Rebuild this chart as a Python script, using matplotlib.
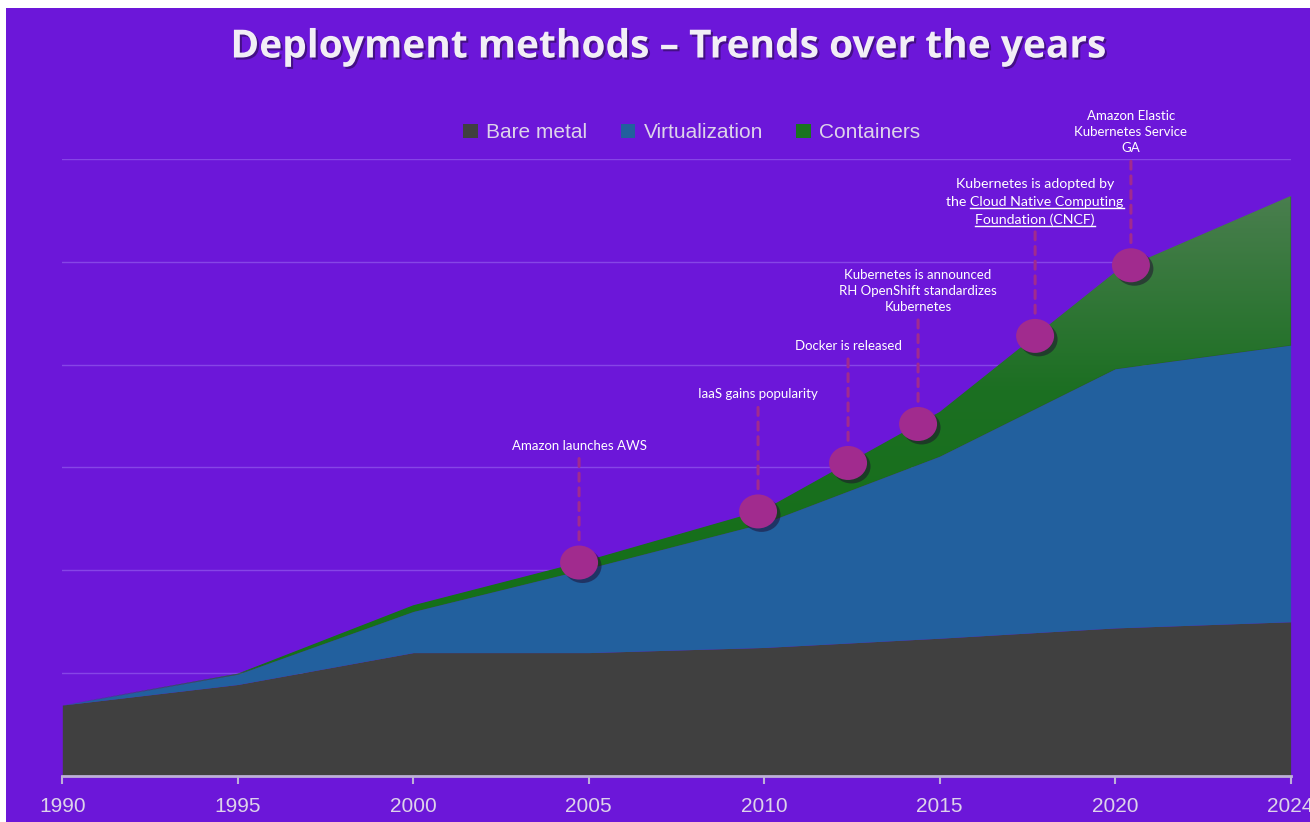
import numpy as np
import matplotlib
matplotlib.use('Agg')
import matplotlib.pyplot as plt
import matplotlib.patheffects as pe
from matplotlib.patches import Ellipse, Patch, Rectangle
from matplotlib.colors import LinearSegmentedColormap
from matplotlib.lines import Line2D

##===========================================
# Data
##===========================================
years = ['1990', '1995', '2000', '2005', '2010', '2015', '2020', '2024']
bare_metal = [6.9, 8.9, 12.0, 12.0, 12.5, 13.4, 14.4, 15.0]
virtualization = [0.0, 1.0, 4.0, 8.2, 12.1, 17.7, 25.2, 26.9]
containers = [0.0, 0.05, 0.6, 0.8, 1.3, 4.3, 9.4, 14.5]
series_names = ['Bare metal', 'Virtualization', 'Containers']

# milestones, position on the category axis (0 = 1990 ... 7 = 2024)
event_pos = [2.945, 3.965, 4.478, 4.877, 5.544, 6.09]
event_labels = ['Amazon launches AWS',
                'IaaS gains popularity',
                'Docker is released',
                'Kubernetes is announced\nRH OpenShift standardizes\nKubernetes',
                'Kubernetes is adopted by\nthe Cloud Native Computing\nFoundation (CNCF)',
                'Amazon Elastic\nKubernetes Service\nGA']
# pieces of the CNCF label that are underlined (a link in the original)
underlined = ['Cloud Native Computing', 'Foundation (CNCF)']

##===========================================
# Styling
##===========================================
BG = '#6c17d9'
C_BARE = '#404040'
C_VIRT = '#22609e'
C_CONT = '#1a6e1f'
C_DOT = '#a12b8e'
TXT = '#ddd3ea'

fig = plt.figure(figsize=(13.1, 8.22), dpi=100, facecolor='white')
fig.patches.append(Rectangle((6 / 1310, 0), 1, 1 - 8 / 822, transform=fig.transFigure,
                             facecolor=BG, edgecolor='none', zorder=-10))

ax = fig.add_axes([62.3 / 1310, 1 - 776 / 822, (1290.6 - 62.3) / 1310, (776 - 159) / 822])
ax.set_facecolor('none')

x = np.arange(len(years))
b = np.array(bare_metal)
v = b + np.array(virtualization)
c = v + np.array(containers)

ax.fill_between(x, 0, b, color=C_BARE, lw=0, zorder=2)
ax.fill_between(x, b, v, color=C_VIRT, lw=0, zorder=2)
green = ax.fill_between(x, v, c, color=C_CONT, lw=0, zorder=2)

# green area gets a vertical gradient
cmap = LinearSegmentedColormap.from_list('g', ['#157019', '#1c6f22', '#4b7f50'])
grad = np.linspace(0, 1, 256).reshape(-1, 1)
grad = np.clip((grad - 0.3) / 0.65, 0, 1)
im = ax.imshow(grad, cmap=cmap, aspect='auto', extent=[0, 7, 0, 60], origin='lower', zorder=3)
im.set_clip_path(green.get_paths()[0], transform=ax.transData)

ax.set_xlim(0, 7)
ax.set_ylim(0, 60)
ax.set_yticks(np.arange(10, 61, 10))
ax.yaxis.grid(True, color='#8645e6', lw=1.0, zorder=0)
ax.set_axisbelow(True)
ax.tick_params(axis='y', left=False, labelleft=False)
ax.set_xticks(x)
ax.set_xticklabels(years, fontsize=15, color=TXT, family='Liberation Sans')
ax.tick_params(axis='x', color='#bdb0d8', length=6, width=1.5, pad=9)
for s in ['top', 'right', 'left']:
    ax.spines[s].set_visible(False)
ax.spines['bottom'].set_color('#bdb0d8')
ax.spines['bottom'].set_linewidth(2)
ax.spines['bottom'].set_zorder(5)

##===========================================
# Milestones
##===========================================
ev_y = np.interp(event_pos, x, c)
px = 0.72  # points per pixel at 100 dpi
link_texts = []
for i, (ex, ey, lab) in enumerate(zip(event_pos, ev_y, event_labels)):
    ax.annotate('', xy=(ex, ey), xycoords='data', xytext=(0, 104 * px), textcoords='offset points',
                arrowprops=dict(arrowstyle='-', color=C_DOT, lw=2.2, ls=(0, (2.6, 2.2)),
                                shrinkA=0, shrinkB=20 * px), zorder=6)
    el = Ellipse((ex, ey), 38 / 175.47, 34 / 10.28, facecolor=C_DOT, edgecolor='none', zorder=7,
                 path_effects=[pe.SimplePatchShadow(offset=(2.5, -2.5), shadow_rgbFace='#1e0a2e', alpha=0.5),
                               pe.Normal()])
    ax.add_patch(el)
    lines = lab.split('\n')
    big = (i == 4)
    step = 18 if big else 16
    base = 116 if big else 117
    for k, ln in enumerate(lines):
        off = (base + (len(lines) - 1 - k) * step) * px
        t = ax.annotate(ln, xy=(ex, ey), xytext=(0, off), textcoords='offset points',
                        ha='center', va='center', color='white',
                        fontsize=10.2 if big else 9.5, family='Lato', zorder=8)
        if big:
            link_texts.append(t)

# underline the link part of the CNCF label
fig.canvas.draw()
r = fig.canvas.get_renderer()
for t in link_texts:
    s = t.get_text()
    for u in underlined:
        if u in s:
            bb = t.get_window_extent(r)
            _, _, desc = r.get_text_width_height_descent(s, t.get_fontproperties(), ismath=False)
            tmp = fig.text(0, 0, u, fontproperties=t.get_fontproperties())
            wu = tmp.get_window_extent(r).width
            tmp.remove()
            x1 = bb.x1
            x0 = x1 - wu
            yl = bb.y0 + desc - 2
            fig.add_artist(Line2D([x0 / 1310, x1 / 1310], [yl / 822, yl / 822],
                                  transform=fig.transFigure, color='white', lw=1.0, zorder=9))

##===========================================
# Title, legend
##===========================================
fig.text(668 / 1310, 1 - 47 / 822, 'Deployment methods \u2013 Trends over the years', ha='center', va='center',
         fontsize=28, fontweight='bold', color='#f2eef6', family='Open Sans',
         path_effects=[pe.SimplePatchShadow(offset=(1.5, -1.5), shadow_rgbFace='#2a0a50', alpha=0.6), pe.Normal()])

handles = [Patch(facecolor=C_BARE), Patch(facecolor=C_VIRT), Patch(facecolor='#1a7420')]
fig.legend(handles, series_names, loc='center', bbox_to_anchor=(692 / 1310, 1 - 133 / 822), ncol=3,
           frameon=False, labelcolor=TXT, handlelength=0.7, handleheight=0.7,
           handletextpad=0.4, columnspacing=1.6, prop={'family': 'Liberation Sans', 'size': 15})

fig.savefig('out.png', dpi=100, facecolor=fig.get_facecolor())
